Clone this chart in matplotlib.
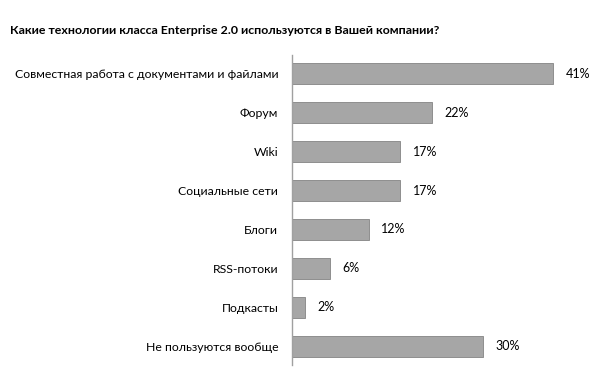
import matplotlib
matplotlib.use("Agg")
import matplotlib.pyplot as plt

categories = [
    "Совместная работа с документами и файлами",
    "Форум",
    "Wiki",
    "Социальные сети",
    "Блоги",
    "RSS-потоки",
    "Подкасты",
    "Не пользуются вообще",
]
values = [41, 22, 17, 17, 12, 6, 2, 30]
value_labels = ["41%", "22%", "17%", "17%", "12%", "6%", "2%", "30%"]
title = "Какие технологии класса Enterprise 2.0 используются в Вашей компании?"

plt.rcParams['font.family'] = ['Lato', 'Open Sans', 'DejaVu Sans']

fig = plt.figure(figsize=(6, 3.88), dpi=100)
ax = fig.add_axes([0.487, 0.058, 0.493, 0.8015])

ypos = list(range(len(categories)))
ax.barh(ypos, values, height=0.54, color='#a6a6a6', edgecolor='#8e8e8e', linewidth=0.7)
ax.set_ylim(len(categories) - 0.5, -0.5)
ax.set_xlim(0, 46.5)

for y, v, lab in zip(ypos, values, value_labels):
    ax.annotate(lab, (v, y), xytext=(9, 0), textcoords='offset points',
                va='center', ha='left', fontsize=9, color='#000000')

ax.set_yticks(ypos)
ax.set_yticklabels(categories, fontsize=8.8, color='#000000')
ax.tick_params(axis='y', length=0, pad=10)
ax.set_xticks([])
for s in ['top', 'right', 'bottom']:
    ax.spines[s].set_visible(False)
ax.spines['left'].set_color('#a0a0a0')
ax.spines['left'].set_linewidth(1.0)

fig.text(10 / 600, 1 - 30 / 388, title, fontsize=8.9, fontweight='bold',
         ha='left', va='center', color='#000000')

fig.savefig('out.png', dpi=100)
